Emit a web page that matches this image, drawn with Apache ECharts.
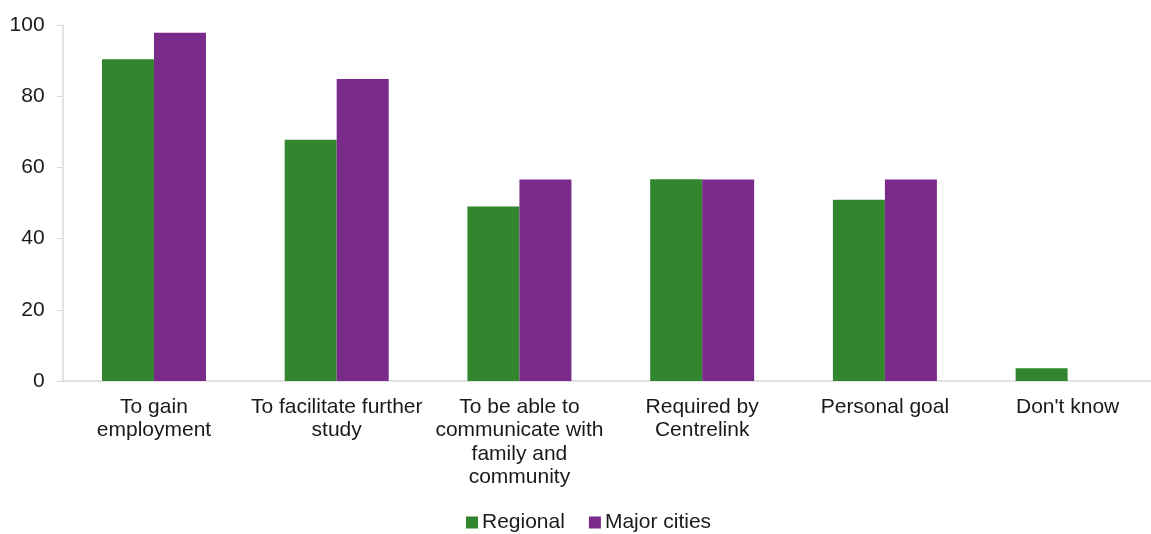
<!DOCTYPE html>
<html><head><meta charset="utf-8">
<script src="https://cdn.jsdelivr.net/npm/echarts@6/dist/echarts.min.js"></script>
<style>html,body{margin:0;padding:0;background:#fff;overflow:hidden}#c{width:1151px;height:534px}</style>
</head><body><div id="c"></div>
<script>
var categories = ["To gain\nemployment", "To facilitate further\nstudy", "To be able to\ncommunicate with\nfamily and\ncommunity", "Required by\nCentrelink", "Personal goal", "Don't know"];
var regional = [90.4, 67.8, 49.0, 56.7, 50.9, 3.6];
var majorCities = [97.8, 84.8, 56.6, 56.6, 56.6, 0];
var yTicks = [0, 20, 40, 60, 80, 100];

var chart = echarts.init(document.getElementById('c'));
var font = 'Liberation Sans, Arial, sans-serif';
chart.setOption({
  animation: false,
  textStyle: {fontFamily: font},
  grid: {left: 62.6, width: 1096.4, top: 25, bottom: 153, outerBoundsMode: 'none', containLabel: false},
  legend: {
    bottom: -4, left: 461,
    itemWidth: 12, itemHeight: 12, itemGap: 24,
    icon: 'rect',
    textStyle: {fontSize: 21, color: '#1a1a1a', fontFamily: font, padding: [0,0,0,-1]},
    data: ['Regional', 'Major cities']
  },
  xAxis: {
    type: 'category', data: categories,
    axisLine: {lineStyle: {color: '#d9d9d9', width: 1.5}},
    axisTick: {show: false},
    axisLabel: {fontSize: 21, color: '#1a1a1a', lineHeight: 23.5, margin: 14, interval: 0, fontFamily: font}
  },
  yAxis: {
    type: 'value', min: 0, max: 100, interval: 20,
    axisLine: {show: true, lineStyle: {color: '#d9d9d9', width: 1.5}},
    axisTick: {show: true, length: 6, lineStyle: {color: '#d9d9d9'}},
    splitLine: {show: false},
    axisLabel: {fontSize: 21, color: '#1a1a1a', margin: 18, fontFamily: font,
      formatter: function(v){ return yTicks.indexOf(v) >= 0 ? String(v) : ''; }}
  },
  series: [
    {name: 'Regional', type: 'bar', data: regional, barWidth: 52, barGap: '0%', itemStyle: {color: '#31862e'}},
    {name: 'Major cities', type: 'bar', data: majorCities, barWidth: 52, barGap: '0%', itemStyle: {color: '#7a2a8b'}}
  ]
});
</script></body></html>
